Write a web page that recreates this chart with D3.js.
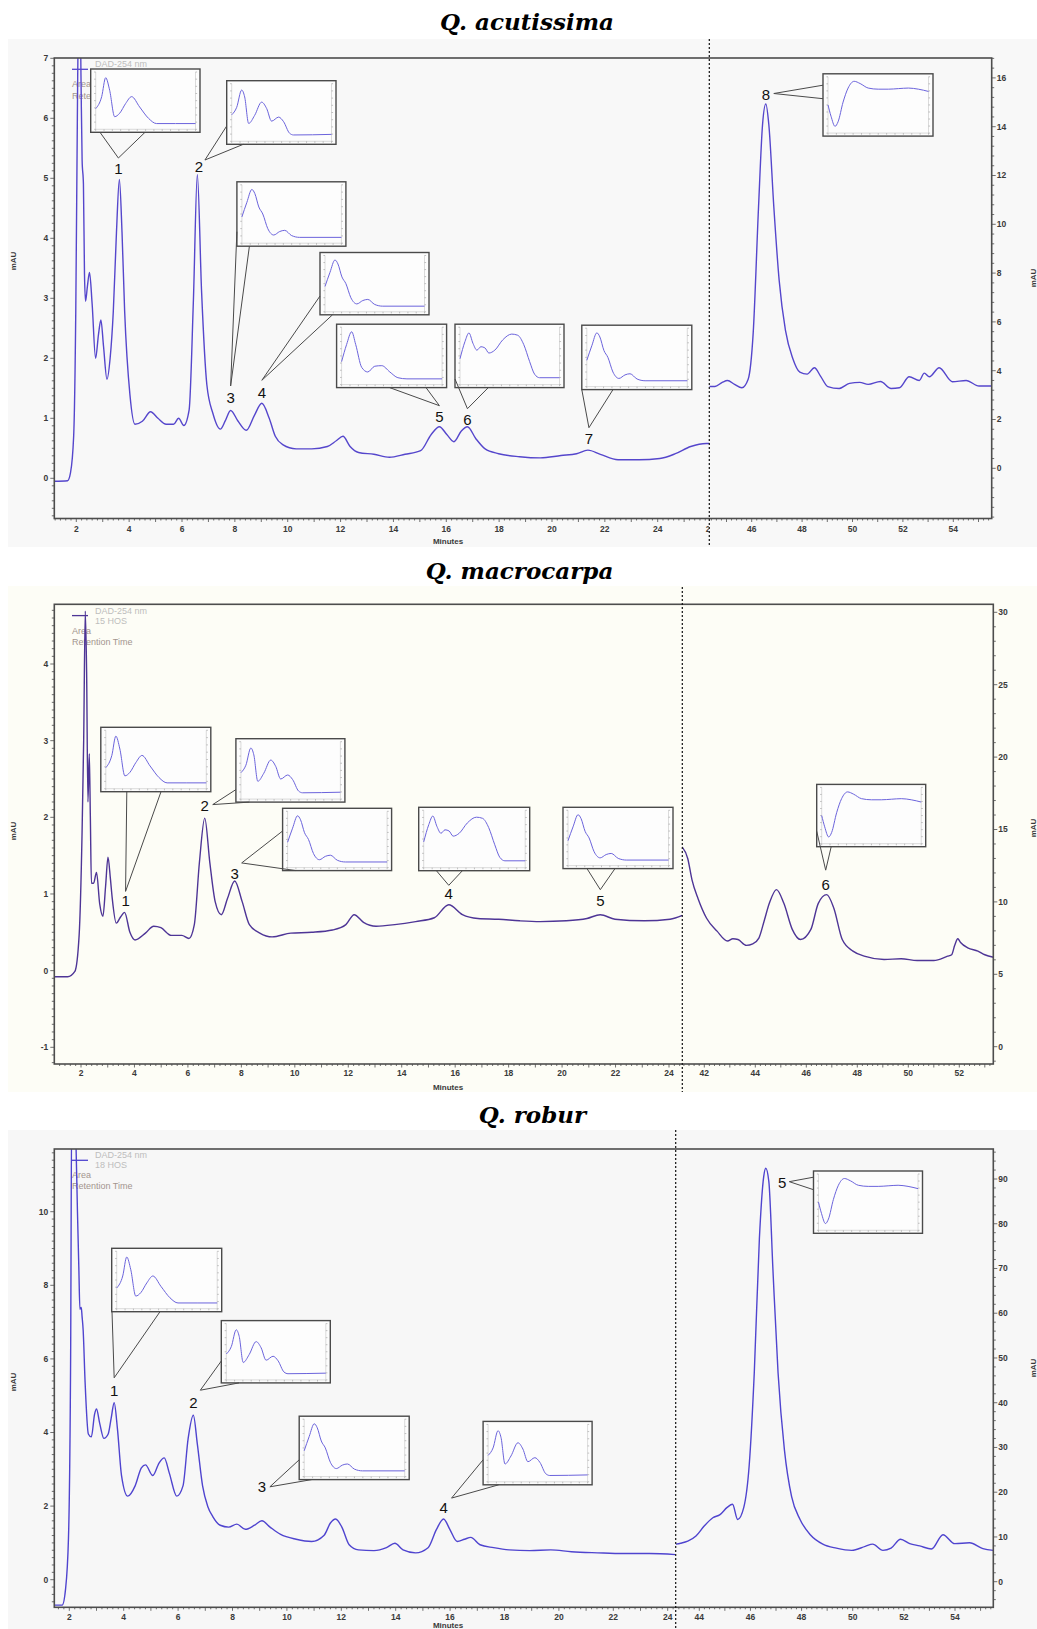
<!DOCTYPE html>
<html>
<head>
<meta charset="utf-8">
<script src="https://cdn.jsdelivr.net/npm/d3@7"></script>
<style>
  body { margin: 0; background: #fff; }
  svg { display: block; }
</style>
</head>
<body>
<svg id="chart" width="1037" height="1629"></svg>
<script>
// ---------------- Chromatogram traces: [minutes, mAU] ----------------
const acutissimaLeft = [[1.17,-0.05],[1.67,-0.04],[1.78,0.09],[1.9,0.7],[1.98,2.78],[2.04,6.0],[2.08,7.8],[2.14,8],[2.18,6.6],[2.22,5.3],[2.27,4.9],[2.31,3.4],[2.35,2.95],[2.42,3.2],[2.5,3.43],[2.6,2.9],[2.73,2.0],[2.84,2.4],[2.93,2.64],[3.03,2.2],[3.16,1.65],[3.28,2.0],[3.4,2.78],[3.52,4.1],[3.63,4.98],[3.73,4.1],[3.83,2.78],[4.03,1.39],[4.22,0.9],[4.5,0.95],[4.81,1.11],[5.09,1.0],[5.4,0.9],[5.68,0.9],[5.87,1.0],[6.07,0.88],[6.27,1.14],[6.43,2.95],[6.58,5.06],[6.74,3.12],[6.94,1.56],[7.17,1.08],[7.45,0.82],[7.64,0.96],[7.84,1.13],[8.11,0.96],[8.43,0.8],[8.74,1.05],[9.02,1.25],[9.3,1.0],[9.53,0.7],[9.81,0.56],[10.32,0.49],[10.91,0.49],[11.5,0.53],[11.85,0.63],[12.09,0.7],[12.36,0.53],[12.68,0.43],[13.26,0.4],[13.85,0.35],[14.44,0.4],[15.03,0.46],[15.43,0.73],[15.74,0.86],[16.02,0.73],[16.29,0.61],[16.57,0.79],[16.8,0.86],[17.12,0.66],[17.47,0.49],[17.98,0.41],[18.77,0.36],[19.56,0.34],[20.34,0.38],[20.93,0.41],[21.36,0.47],[21.83,0.4],[22.5,0.31],[23.29,0.31],[24.08,0.33],[24.67,0.41],[25.25,0.53],[25.84,0.58],[26.0,0.58]];
const acutissimaRight = [[44.32,3.35],[44.54,3.35],[44.83,3.52],[45.04,3.6],[45.32,3.44],[45.61,3.3],[45.86,3.65],[46.06,5.56],[46.27,10.68],[46.43,14.08],[46.56,14.93],[46.68,14.08],[46.88,10.68],[47.09,7.7],[47.34,5.65],[47.63,4.5],[47.91,3.94],[48.2,3.86],[48.49,4.12],[48.73,3.78],[49.02,3.35],[49.47,3.27],[49.88,3.48],[50.29,3.52],[50.62,3.44],[51.11,3.56],[51.53,3.27],[51.86,3.3],[52.25,3.75],[52.65,3.6],[52.85,3.9],[53.05,3.75],[53.44,4.12],[53.96,3.55],[54.51,3.6],[55.02,3.37],[55.52,3.37]];

const macrocarpaLeft = [[1.0,-0.08],[1.5,-0.08],[1.77,-0.01],[1.93,0.46],[2.04,1.8],[2.1,3.0],[2.16,4.69],[2.21,3.9],[2.26,2.2],[2.31,2.83],[2.35,2.0],[2.39,1.14],[2.47,1.14],[2.58,1.28],[2.7,0.87],[2.82,0.71],[2.92,1.1],[3.01,1.48],[3.1,1.2],[3.17,0.94],[3.32,0.62],[3.48,0.7],[3.63,0.76],[3.83,0.5],[4.02,0.4],[4.41,0.49],[4.72,0.58],[4.99,0.56],[5.38,0.46],[5.77,0.46],[6.04,0.42],[6.24,0.6],[6.43,1.41],[6.63,1.99],[6.82,1.41],[7.02,0.9],[7.25,0.73],[7.48,0.94],[7.75,1.17],[8.03,0.9],[8.3,0.6],[8.69,0.49],[9.15,0.44],[9.85,0.49],[10.63,0.5],[11.41,0.53],[11.91,0.6],[12.22,0.73],[12.57,0.63],[13.04,0.58],[13.74,0.6],[14.52,0.64],[15.22,0.69],[15.76,0.86],[16.27,0.73],[16.85,0.68],[17.63,0.67],[18.41,0.65],[19.18,0.64],[20.16,0.65],[20.93,0.68],[21.43,0.73],[21.98,0.67],[23.07,0.65],[24.04,0.67],[24.5,0.72]];
const macrocarpaRight = [[41.13,13.8],[41.35,13.0],[41.52,11.5],[41.76,10.2],[42.09,8.87],[42.5,7.98],[42.91,7.3],[43.12,7.45],[43.32,7.4],[43.65,7.0],[43.9,7.1],[44.14,7.5],[44.35,8.7],[44.55,9.9],[44.83,10.85],[45.12,9.9],[45.45,8.1],[45.77,7.4],[46.18,8.1],[46.47,9.9],[46.8,10.5],[47.08,9.56],[47.41,7.4],[47.83,6.6],[48.31,6.24],[49.05,6.02],[49.72,6.07],[50.35,5.95],[51.0,5.95],[51.54,6.25],[51.7,6.35],[51.82,7.0],[51.94,7.46],[52.05,7.2],[52.33,6.83],[52.73,6.6],[53.0,6.35],[53.34,6.18]];

const roburLeft = [[1.45,-0.69],[1.74,-0.69],[1.86,-0.27],[1.97,1.14],[2.05,6.2],[2.09,13],[2.15,13],[2.21,12.5],[2.25,11.7],[2.3,10],[2.35,8.5],[2.39,7.35],[2.44,7.4],[2.47,7.15],[2.51,6.78],[2.58,5.38],[2.7,3.96],[2.81,3.88],[2.93,4.5],[3.0,4.64],[3.12,4.24],[3.27,3.84],[3.43,3.96],[3.54,4.39],[3.65,4.81],[3.77,4.1],[3.92,2.83],[4.15,2.27],[4.42,2.55],[4.65,3.04],[4.8,3.12],[5.07,2.83],[5.3,3.17],[5.49,3.31],[5.68,2.89],[5.95,2.27],[6.18,2.55],[6.37,3.84],[6.56,4.47],[6.71,3.67],[6.9,2.55],[7.09,1.99],[7.28,1.71],[7.55,1.48],[7.86,1.43],[8.16,1.51],[8.47,1.37],[8.81,1.48],[9.08,1.6],[9.38,1.43],[9.77,1.23],[10.34,1.1],[10.91,1.04],[11.37,1.21],[11.6,1.54],[11.79,1.65],[12.02,1.43],[12.29,0.95],[12.63,0.81],[13.2,0.79],[13.66,0.87],[13.97,0.99],[14.27,0.81],[14.73,0.73],[15.19,0.87],[15.5,1.37],[15.76,1.65],[15.99,1.37],[16.26,1.04],[16.53,1.1],[16.76,1.15],[17.1,0.95],[17.6,0.87],[18.17,0.81],[18.93,0.79],[19.7,0.81],[20.46,0.76],[21.42,0.73],[22.37,0.71],[23.33,0.71],[24.29,0.68]];
const roburRight = [[43.08,8.4],[43.27,8.6],[43.55,9.05],[43.87,10.2],[44.2,12.5],[44.53,14.3],[44.81,15],[45.09,16.6],[45.3,17.3],[45.5,13.9],[45.74,16.6],[45.95,25.9],[46.15,46.7],[46.35,76.7],[46.52,90.6],[46.6,92.4],[46.72,89.4],[46.88,69.7],[47.08,46.7],[47.33,29.4],[47.61,19],[47.94,13.9],[48.34,10.5],[48.83,8.4],[49.36,7.5],[49.96,7],[50.49,7.9],[50.78,8.4],[51.18,7],[51.5,7.5],[51.87,9.5],[52.23,8.5],[52.62,8.0],[53.08,7.3],[53.53,10.5],[53.99,8.5],[54.57,8.7],[55.09,7.4],[55.5,7.0]];

// ---------------- Numbered peaks: retention time and height ----------------
const acutissimaPeakT = [3.63, 6.58, 7.84, 9.02, 15.74, 16.8, 21.36, 46.56];
const acutissimaPeakV = [4.98, 5.06, 1.13, 1.25, 0.86, 0.86, 0.47, 14.93];
const macrocarpaPeakT = [3.63, 6.63, 7.75, 15.76, 21.43, 46.8];
const macrocarpaPeakV = [0.76, 1.99, 1.17, 0.86, 0.73, 10.5];
const roburPeakT = [3.65, 6.56, 9.08, 15.76, 46.6];
const roburPeakV = [4.81, 4.47, 1.6, 1.65, 92.4];

// ---------------- UV spectra shown in the callouts (relative absorbance) ----------------
const spectrumA  = [[0,0.36],[0.06,0.57],[0.10,0.90],[0.14,0.68],[0.19,0.22],[0.24,0.28],[0.30,0.45],[0.36,0.57],[0.44,0.39],[0.53,0.19],[0.61,0.10],[0.8,0.10],[1,0.10]];
const spectrumA2 = [[0,0.4],[0.05,0.7],[0.1,0.92],[0.14,0.7],[0.2,0.3],[0.26,0.22],[0.33,0.32],[0.4,0.33],[0.48,0.22],[0.56,0.12],[0.65,0.1],[1,0.1]];
const spectrumB  = [[0,0.46],[0.05,0.59],[0.10,0.89],[0.13,0.77],[0.17,0.31],[0.23,0.45],[0.30,0.68],[0.35,0.57],[0.40,0.35],[0.47,0.42],[0.52,0.34],[0.58,0.14],[0.62,0.11],[1,0.12]];
const spectrumC  = [[0,0.45],[0.05,0.7],[0.10,0.92],[0.13,0.85],[0.17,0.62],[0.21,0.5],[0.26,0.25],[0.32,0.14],[0.38,0.2],[0.43,0.22],[0.5,0.13],[0.58,0.1],[1,0.1]];
const spectrumD  = [[0,0.45],[0.05,0.75],[0.09,0.9],[0.13,0.72],[0.17,0.6],[0.21,0.66],[0.25,0.64],[0.29,0.55],[0.35,0.6],[0.43,0.78],[0.52,0.88],[0.58,0.86],[0.64,0.7],[0.7,0.4],[0.75,0.18],[0.8,0.12],[1,0.12]];
const spectrumE  = [[0,0.5],[0.03,0.3],[0.07,0.12],[0.1,0.2],[0.15,0.55],[0.2,0.8],[0.26,0.92],[0.32,0.88],[0.4,0.8],[0.5,0.78],[0.6,0.78],[0.7,0.79],[0.8,0.8],[0.9,0.78],[1,0.74]];
const spectra = { A: spectrumA, A2: spectrumA2, B: spectrumB, C: spectrumC, D: spectrumD, E: spectrumE };

// ---------------- Axis ticks ----------------
const acutissimaXLeftTicks = [2,4,6,8,10,12,14,16,18,20,22,24,26];
const acutissimaXRightTicks = [46,48,50,52,54];
const acutissimaYLeftTicks = [0,1,2,3,4,5,6,7];
const acutissimaYRightTicks = [0,2,4,6,8,10,12,14,16];
const macrocarpaXLeftTicks = [2,4,6,8,10,12,14,16,18,20,22,24];
const macrocarpaXRightTicks = [42,44,46,48,50,52];
const macrocarpaYLeftTicks = [-1,0,1,2,3,4];
const macrocarpaYRightTicks = [0,5,10,15,20,25,30];
const roburXLeftTicks = [2,4,6,8,10,12,14,16,18,20,22,24];
const roburXRightTicks = [44,46,48,50,52,54];
const roburYLeftTicks = [0,2,4,6,8,10];
const roburYRightTicks = [0,10,20,30,40,50,60,70,80,90];

const titles = ["Q. acutissima", "Q. macrocarpa", "Q. robur"];
const legendHeads = [["DAD-254 nm"], ["DAD-254 nm", "15 HOS"], ["DAD-254 nm", "18 HOS"]];
const legendItems = ["Area", "Retention Time"];

// ---------------- Layout ----------------
const panels = [
  {
    title: titles[0], titleX: 527, titleY: 30, bg: [8, 39, 1029, 508], bgColor: "#f8f8f8",
    frame: [54.3, 58, 991.7, 518.5], split: 709.3, dashY: [39, 547],
    lx: [[2, 24], [76.3, 657.7]], rx: [[46, 54], [751.7, 953.3]],
    ly: [[0, 7], [478.3, 58.3]], ry: [[0, 16], [468.3, 77.9]],
    left: acutissimaLeft, right: acutissimaRight, color: "#5546cc",
    xlt: acutissimaXLeftTicks, xrt: acutissimaXRightTicks, ylt: acutissimaYLeftTicks, yrt: acutissimaYRightTicks,
    yMinorL: 0.125, yMinorR: 0.4, xLabDy: 10.5, minutesY: 541, mauY: [261, 278],
    legend: legendHeads[0], legendItemY: [84, 96],
    peakT: acutissimaPeakT, peakV: acutissimaPeakV, rightFrom: 7,
    callouts: [
      { spec: "A",  box: [90.7, 69, 109.3, 63.3],   a: [100, 132.3],   b: [145, 132.3],   lab: [-1, -10.5], tip: [0, -11] },
      { spec: "B",  box: [226.7, 80.7, 109.3, 63.6], a: [226.7, 126],   b: [243.3, 144.3], lab: [1.6, -8],   tip: [6, -6.7] },
      { spec: "C",  box: [236.9, 181.8, 109, 64.4], a: [236.9, 231.7], b: [249.4, 246.2], lab: [0, -12.5],  tip: [0, -12] },
      { spec: "C",  box: [320, 252.5, 109, 62.3],   a: [320, 296],     b: [332.5, 314.8], lab: [0, -11],    tip: [0, -12] },
      { spec: "A2", box: [336.6, 324.2, 110, 63.4], a: [389.6, 387.6], b: [426, 387.6],   lab: [0, -10],    tip: [0, -11] },
      { spec: "D",  box: [455, 324.2, 109, 63.4],   a: [455, 379],     b: [488.3, 387.6], lab: [0, -7],     tip: [0, -11] },
      { spec: "C",  box: [581.8, 325.2, 110, 64.4], a: [581.8, 389.6], b: [613, 389.6],   lab: [1, -11.4],  tip: [0, -11] },
      { spec: "E",  box: [823, 73.8, 110, 62.3],    a: [823, 85.2],    b: [823, 98.7],    lab: [0, -9.5],   tip: [8, -1] }
    ]
  },
  {
    title: titles[1], titleX: 519.5, titleY: 579, bg: [8, 586, 1029, 506], bgColor: "#fdfdf6",
    frame: [54.3, 604.3, 993.3, 1064], split: 682.3, dashY: [587, 1092],
    lx: [[2, 24], [81, 669]], rx: [[42, 52], [704.3, 959.3]],
    ly: [[-1, 4], [1047.3, 664]], ry: [[0, 30], [1046.7, 612.3]],
    left: macrocarpaLeft, right: macrocarpaRight, color: "#4e3596",
    xlt: macrocarpaXLeftTicks, xrt: macrocarpaXRightTicks, ylt: macrocarpaYLeftTicks, yrt: macrocarpaYRightTicks,
    yMinorL: 0.1, yMinorR: 1, xLabDy: 9.5, minutesY: 1087, mauY: [831, 828],
    legend: legendHeads[1], legendItemY: [631, 642],
    peakT: macrocarpaPeakT, peakV: macrocarpaPeakV, rightFrom: 5,
    callouts: [
      { spec: "A", box: [100.8, 727.3, 110, 64.4], a: [126.8, 791.7], b: [161, 791.7],   lab: [1, -11.5], tip: [0, -9.5] },
      { spec: "B", box: [235.9, 738.7, 109, 63.4], a: [235.9, 789.6], b: [249.4, 802.1], lab: [0, -12],   tip: [8, -1.5] },
      { spec: "C", box: [282.6, 808.3, 109, 62.3], a: [282.6, 831],   b: [296, 870.6],   lab: [0, -7],    tip: [7, -11] },
      { spec: "D", box: [418.7, 807.3, 111, 63.4], a: [436.4, 870.7], b: [462.4, 870.7], lab: [0, -11],   tip: [0, -8.4] },
      { spec: "C", box: [563, 807.3, 110, 61.3],   a: [587, 868.6],   b: [615, 868.6],   lab: [0, -14],   tip: [0, -11] },
      { spec: "E", box: [816.7, 784.4, 109, 62.3], a: [816.7, 831.2], b: [831.2, 846.7], lab: [-1, -10],  tip: [0, -14.5] }
    ]
  },
  {
    title: titles[2], titleX: 532.5, titleY: 1123, bg: [8, 1130, 1029, 499], bgColor: "#f7f7f7",
    frame: [54.3, 1149, 993.3, 1607.3], split: 675.7, dashY: [1130, 1629],
    lx: [[2, 24], [69.3, 667.7]], rx: [[44, 54], [699.3, 955]],
    ly: [[0, 10], [1579.7, 1211.7]], ry: [[0, 90], [1581.7, 1179]],
    left: roburLeft, right: roburRight, color: "#4f44cf",
    xlt: roburXLeftTicks, xrt: roburXRightTicks, ylt: roburYLeftTicks, yrt: roburYRightTicks,
    yMinorL: 0.2, yMinorR: 2, xLabDy: 10.2, minutesY: 1625, mauY: [1382, 1368],
    legend: legendHeads[2], legendItemY: [1175, 1186],
    peakT: roburPeakT, peakV: roburPeakV, rightFrom: 4,
    callouts: [
      { spec: "A", box: [111.7, 1248.3, 110, 63.4], a: [112, 1311.7],   b: [160, 1311.7],   lab: [0, -12.5], tip: [0, -12.4] },
      { spec: "B", box: [221.3, 1320.6, 109, 62.3], a: [221.3, 1361],   b: [239, 1382.9],   lab: [0, -12.5], tip: [7, -12.5] },
      { spec: "C", box: [299.2, 1416.2, 110, 63.4], a: [299.2, 1459.8], b: [311.7, 1479.6], lab: [0, -34],   tip: [8, 0] },
      { spec: "B", box: [483.1, 1421.4, 109, 63.4], a: [483.1, 1459.8], b: [498.7, 1484.8], lab: [0, -11.5], tip: [8, -9.4] },
      { spec: "E", box: [813.5, 1171, 109, 62.3],   a: [813.5, 1177.2], b: [813.5, 1189.7], lab: [16.5, 14.4], tip: [7, -1] }
    ]
  }
];

const svg = d3.select("#chart");
const defs = svg.append("defs");
const axisColor = "#4d4d4d";
const tickFont = "Liberation Sans, Arial, sans-serif";

function ticksBetween(lo, hi, step) {
  const out = [];
  const start = Math.ceil(lo / step - 1e-9);
  for (let k = start; k * step <= hi + 1e-9; k++) out.push(+(k * step).toFixed(4));
  return out;
}

panels.forEach((p, pi) => {
  const g = svg.append("g");
  const [fl, ft, fr, fb] = p.frame;

  // panel background and title
  g.append("rect").attr("x", p.bg[0]).attr("y", p.bg[1]).attr("width", p.bg[2]).attr("height", p.bg[3]).attr("fill", p.bgColor);
  svg.append("text").attr("x", p.titleX).attr("y", p.titleY).attr("text-anchor", "middle")
    .attr("font-family", "DejaVu Serif, serif").attr("font-weight", "bold").attr("font-style", "italic")
    .attr("font-size", 23).attr("fill", "#000").text(p.title);

  // scales
  const xL = d3.scaleLinear().domain(p.lx[0]).range(p.lx[1]);
  const xR = d3.scaleLinear().domain(p.rx[0]).range(p.rx[1]);
  const yL = d3.scaleLinear().domain(p.ly[0]).range(p.ly[1]);
  const yR = d3.scaleLinear().domain(p.ry[0]).range(p.ry[1]);

  // clip regions for the two time windows
  defs.append("clipPath").attr("id", `cl${pi}`).append("rect")
    .attr("x", fl).attr("y", ft).attr("width", p.split - fl).attr("height", fb - ft);
  defs.append("clipPath").attr("id", `cr${pi}`).append("rect")
    .attr("x", p.split).attr("y", ft).attr("width", fr - p.split).attr("height", fb - ft);
  defs.append("clipPath").attr("id", `ct${pi}`).append("rect")
    .attr("x", 0).attr("y", fb).attr("width", p.split - 0.5).attr("height", 40);

  // legend
  const ly0 = ft + 11.3;
  g.append("line").attr("x1", 72).attr("x2", 88).attr("y1", ly0).attr("y2", ly0)
    .attr("stroke", p.color).attr("stroke-width", 1.3);
  p.legend.forEach((t, i) => {
    g.append("text").attr("x", 95).attr("y", ly0 - 5 + i * 10).attr("dy", "0.35em")
      .attr("font-family", tickFont).attr("font-size", 9).attr("fill", "#bdbdbd").text(t);
  });
  legendItems.forEach((t, i) => {
    g.append("text").attr("x", 72).attr("y", p.legendItemY[i]).attr("dy", "0.35em")
      .attr("font-family", tickFont).attr("font-size", 9).attr("fill", "#a3958f").text(t);
  });

  // traces
  const lineL = d3.line().x(d => xL(d[0])).y(d => yL(d[1])).curve(d3.curveMonotoneX);
  const lineR = d3.line().x(d => xR(d[0])).y(d => yR(d[1])).curve(d3.curveMonotoneX);
  g.append("path").attr("clip-path", `url(#cl${pi})`).attr("d", lineL(p.left))
    .attr("fill", "none").attr("stroke", p.color).attr("stroke-width", 1.4);
  g.append("path").attr("clip-path", `url(#cr${pi})`).attr("d", lineR(p.right))
    .attr("fill", "none").attr("stroke", p.color).attr("stroke-width", 1.4);

  // frame
  g.append("rect").attr("x", fl).attr("y", ft).attr("width", fr - fl).attr("height", fb - ft)
    .attr("fill", "none").attr("stroke", axisColor).attr("stroke-width", 1.6);

  // x axes: minor + major ticks
  const xMinorL = ticksBetween(xL.invert(fl), xL.invert(p.split), 0.2);
  const xMinorR = ticksBetween(xR.invert(p.split), xR.invert(fr), 0.2);
  const tickG = g.append("g").attr("stroke", axisColor).attr("stroke-width", 0.8);
  xMinorL.forEach(t => {
    const major = Math.abs(t - Math.round(t)) < 1e-6;
    tickG.append("line").attr("x1", xL(t)).attr("x2", xL(t)).attr("y1", fb).attr("y2", fb + (major ? 3.5 : 2));
  });
  xMinorR.forEach(t => {
    const major = Math.abs(t - Math.round(t)) < 1e-6;
    tickG.append("line").attr("x1", xR(t)).attr("x2", xR(t)).attr("y1", fb).attr("y2", fb + (major ? 3.5 : 2));
  });
  const labG = g.append("g").attr("font-family", tickFont).attr("font-size", 8.5).attr("font-weight", "bold").attr("fill", "#3a3a3a");
  labG.append("g").attr("clip-path", `url(#ct${pi})`).selectAll("text").data(p.xlt).join("text")
    .attr("x", d => xL(d)).attr("y", fb + p.xLabDy).attr("dy", "0.35em").attr("text-anchor", "middle").text(d => d);
  labG.append("g").selectAll("text").data(p.xrt).join("text")
    .attr("x", d => xR(d)).attr("y", fb + p.xLabDy).attr("dy", "0.35em").attr("text-anchor", "middle").text(d => d);
  labG.append("text").attr("x", 448).attr("y", p.minutesY).attr("dy", "0.35em").attr("text-anchor", "middle")
    .attr("font-size", 8).text("Minutes");

  // left y axis
  ticksBetween(yL.invert(fb), yL.invert(ft), p.yMinorL).forEach(v => {
    const major = p.ylt.some(t => Math.abs(t - v) < 1e-6);
    tickG.append("line").attr("x1", fl).attr("x2", fl - (major ? 4 : 2.5)).attr("y1", yL(v)).attr("y2", yL(v));
  });
  labG.append("g").selectAll("text").data(p.ylt).join("text")
    .attr("x", fl - 6).attr("y", d => yL(d)).attr("dy", "0.35em").attr("text-anchor", "end").text(d => d);
  // right y axis
  ticksBetween(yR.invert(fb), yR.invert(ft), p.yMinorR).forEach(v => {
    const major = p.yrt.some(t => Math.abs(t - v) < 1e-6);
    tickG.append("line").attr("x1", fr).attr("x2", fr + (major ? 4 : 2.5)).attr("y1", yR(v)).attr("y2", yR(v));
  });
  labG.append("g").selectAll("text").data(p.yrt).join("text")
    .attr("x", fr + 5).attr("y", d => yR(d)).attr("dy", "0.35em").attr("text-anchor", "start").text(d => d);
  // unit labels
  labG.append("text").attr("transform", `translate(13,${p.mauY[0]}) rotate(-90)`).attr("text-anchor", "middle")
    .attr("dy", "0.35em").attr("font-size", 8).text("mAU");
  labG.append("text").attr("transform", `translate(1033,${p.mauY[1]}) rotate(-90)`).attr("text-anchor", "middle")
    .attr("dy", "0.35em").attr("font-size", 8).text("mAU");

  // dotted split between the two time windows
  g.append("line").attr("x1", p.split).attr("x2", p.split).attr("y1", p.dashY[0]).attr("y2", p.dashY[1])
    .attr("stroke", "#111").attr("stroke-width", 1.2).attr("stroke-dasharray", "2,2");

  // callouts with UV spectra and numbered peak labels
  p.callouts.forEach((c, i) => {
    const onRight = i >= p.rightFrom;
    const px = onRight ? xR(p.peakT[i]) : xL(p.peakT[i]);
    const py = onRight ? yR(p.peakV[i]) : yL(p.peakV[i]);
    const lx = px + c.lab[0], ly = py + c.lab[1];
    const tx = lx + c.tip[0], ty = ly + c.tip[1];
    const cg = g.append("g");
    const [bx, by, bw, bh] = c.box;
    cg.append("rect").attr("x", bx).attr("y", by).attr("width", bw).attr("height", bh)
      .attr("fill", "#fdfdfd").attr("stroke", "#4a4a4a").attr("stroke-width", 1.4);
    cg.append("path").attr("d", `M${c.a[0]},${c.a[1]}L${tx},${ty}L${c.b[0]},${c.b[1]}`)
      .attr("fill", "none").attr("stroke", "#4a4a4a").attr("stroke-width", 1);

    // inner spectrum plot
    const il = bx + 5, ir = bx + bw - 4.5, it = by + 3, ib = by + bh - 3;
    const sx = d3.scaleLinear().domain([0, 1]).range([il, ir]);
    const sy = d3.scaleLinear().domain([0, 1]).range([ib, it]);
    cg.append("path").attr("d", `M${il},${it}V${ib}H${ir}V${it}`)
      .attr("fill", "none").attr("stroke", "#d2d2d2").attr("stroke-width", 0.8);
    d3.range(0, 1.0001, 1 / 12).forEach(f => {
      cg.append("line").attr("x1", sx(f)).attr("x2", sx(f)).attr("y1", ib).attr("y2", ib + 1.6)
        .attr("stroke", "#9a9a9a").attr("stroke-width", 0.6);
    });
    d3.range(0, 1.0001, 1 / 8).forEach(f => {
      cg.append("line").attr("x1", il).attr("x2", il - 1.6).attr("y1", sy(f)).attr("y2", sy(f))
        .attr("stroke", "#9a9a9a").attr("stroke-width", 0.6);
      cg.append("line").attr("x1", ir).attr("x2", ir + 1.6).attr("y1", sy(f)).attr("y2", sy(f))
        .attr("stroke", "#9a9a9a").attr("stroke-width", 0.6);
    });
    const sline = d3.line().x(d => sx(d[0])).y(d => sy(d[1])).curve(d3.curveMonotoneX);
    cg.append("path").attr("d", sline(spectra[c.spec])).attr("fill", "none")
      .attr("stroke", "#6b63dc").attr("stroke-width", 1);

    g.append("text").attr("x", lx).attr("y", ly).attr("dy", "0.36em").attr("text-anchor", "middle")
      .attr("font-family", tickFont).attr("font-size", 15).attr("fill", "#111").text(i + 1);
  });
});
</script>
</body>
</html>
